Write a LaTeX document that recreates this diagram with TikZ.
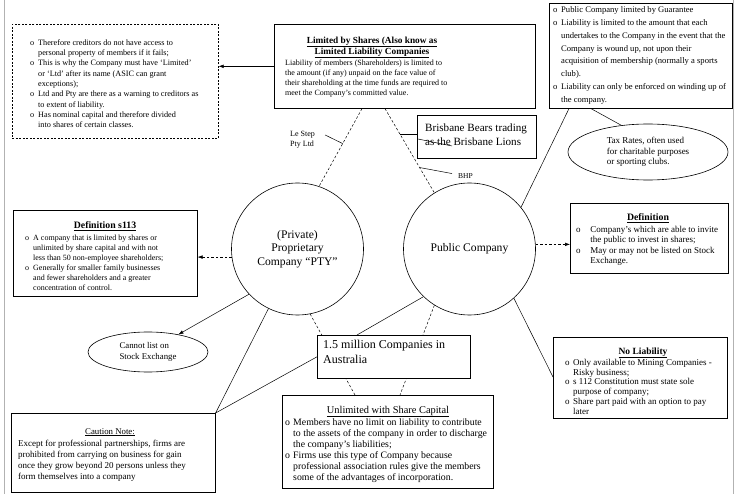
\documentclass[tikz,border=0pt]{standalone}
\usepackage{fontspec}
\setmainfont{Liberation Serif}
\usetikzlibrary{calc,arrows.meta,positioning,shapes.geometric,backgrounds}
\newcommand{\fs}[2]{\fontsize{#1}{#2}\selectfont}
\newcommand{\bul}[1][8pt]{\makebox[#1][l]{o}}
\newcommand{\hng}[1][8pt]{\makebox[#1]{}}
\tikzset{
  box/.style      = {draw=black, line width=0.6pt, fill=white, inner sep=0pt, anchor=north west},
  dbox/.style     = {box, dash pattern=on 2pt off 1.5pt},
  txt/.style      = {inner sep=0pt, align=left, anchor=north west},
  title/.style    = {inner sep=0pt, anchor=base},
  lbl/.style      = {inner sep=0pt, align=left, font=\fs{8}{9.5}},
  company/.style  = {draw=black, line width=0.6pt, fill=white, circle, minimum size=132pt,
                     inner sep=0pt, align=center, font=\fs{11.6}{13.5}},
  blob/.style     = {draw=black, line width=0.6pt, fill=white, ellipse, inner sep=0pt, align=left},
  link/.style     = {line width=0.5pt},
  dlink/.style    = {line width=0.5pt, dash pattern=on 2.5pt off 2pt},
  arr/.style      = {-{Latex[length=5pt,width=3.6pt]}},
  border/.style   = {draw=black!30, line width=1pt}
}

\begin{document}
\begin{tikzpicture}[x=1pt, y=-1pt]
  \useasboundingbox (0,0) rectangle (736,494);
  % page edges
  \draw[border] (4,0) -- (4,494);
  \draw[border] (733,0) -- (733,494);

  % the two kinds of company
  \node[company] (priv) at (297.5,249) {(Private)\\Proprietary\\Company “PTY”};
  \node[company] (pub) at (469.5,249) {Public Company};

  % Limited by shares (top)
  \node[box, minimum width=261pt, minimum height=84pt] (lim) at (274,24) {};
  \node[title, align=center, anchor=north, font=\fs{9.3}{11}\bfseries] (limtitle)
    at ($(lim.north west)+(98,12.5)$) {\underline{Limited by Shares (Also know as}\\\underline{Limited Liability Companies}};
  \node[txt, font=\fs{8}{10}] (limtxt) at ($(lim.north west)+(11,35.5)$)
    {Liability of members (Shareholders) is limited to\\the amount (if any) unpaid on the face value of\\their shareholding at the time funds are required to\\meet the Company’s committed value.};

  \node[dbox, minimum width=206pt, minimum height=114pt] (dash) at (12,24) {};
  \node[txt, font=\fs{8.2}{10.3}] (dashtxt) at ($(dash.north west)+(18,15.3)$)
    {\bul Therefore creditors do not have access to\\
     \hng personal property of members if it fails;\\
     \bul This is why the Company must have ‘Limited’\\
     \hng or ‘Ltd’ after its name (ASIC can grant\\
     \hng exceptions);\\
     \bul Ltd and Pty are there as a warning to creditors as\\
     \hng to extent of liability.\\
     \bul Has nominal capital and therefore divided\\
     \hng into shares of certain classes.};

  % Guarantee (top right)
  \node[box, minimum width=183pt, minimum height=105pt] (gua) at (549,3) {};
  \node[txt, font=\fs{8.6}{12.8}] (guatxt) at ($(gua.north west)+(4,3.5)$)
    {\bul Public Company limited by Guarantee\\
     \bul Liability is limited to the amount that each\\
     \hng undertakes to the Company in the event that the\\
     \hng Company is wound up, not upon their\\
     \hng acquisition of membership (normally a sports\\
     \hng club).\\
     \bul Liability can only be enforced on winding up of\\
     \hng the company.};
  \node[blob, minimum width=160pt, minimum height=56pt, font=\fs{9}{10.8}] (tax) at (648,152)
    {Tax Rates, often used\\for charitable purposes\\or sporting clubs.};

  % examples
  \node[box, minimum width=119pt, minimum height=43pt] (bris) at (417,115) {};
  \node[txt, font=\fs{11.1}{14.5}] (bristxt) at ($(bris.north west)+(8,8.3)$)
    {Brisbane Bears trading\\as the Brisbane Lions};
  \node[lbl, anchor=north west] (lestep) at (290,131.5) {Le Step\\Pty Ltd};
  \node[lbl, anchor=base west, font=\fs{7.5}{9}] (bhp) at (458,179) {BHP};

  % Definitions
  \node[box, minimum width=184pt, minimum height=86pt] (defpty) at (13,210) {};
  \node[title, font=\fs{9.8}{11}\bfseries] (defptytitle) at ($(defpty.north west)+(92,19)$)
    {\underline{Definition s113}};
  \node[txt, font=\fs{8}{10}] (defptytxt) at ($(defpty.north west)+(12,24.5)$)
    {\bul A company that is limited by shares or\\
     \hng unlimited by share capital and with not\\
     \hng less than 50 non-employee shareholders;\\
     \bul Generally for smaller family businesses\\
     \hng and fewer shareholders and a greater\\
     \hng concentration of control.};

  \node[box, minimum width=158pt, minimum height=70pt] (defpub) at (570,203) {};
  \node[title, font=\fs{9.8}{11}\bfseries] (defpubtitle) at ($(defpub.north west)+(78,18)$)
    {\underline{Definition}};
  \node[txt, font=\fs{9}{10.5}] (defpubtxt) at ($(defpub.north west)+(6,22.8)$)
    {\bul[12pt] Company’s which are able to invite\\
     \hng[12pt] the public to invest in shares;\\
     \bul[12pt] May or may not be listed on Stock\\
     \hng[12pt] Exchange.};

  \node[blob, minimum width=120pt, minimum height=40pt, font=\fs{8.8}{11}] (cannot) at (148,352)
    {Cannot list on\\Stock Exchange};

  % bottom row
  \node[box, minimum width=153pt, minimum height=43pt] (onefive) at (317,335) {};
  \node[txt, font=\fs{12}{15.5}] (onefivetxt) at ($(onefive.north west)+(6,4.8)$)
    {1.5 million Companies in\\Australia};

  \node[box, minimum width=204pt, minimum height=79pt] (caution) at (11,413) {};
  \node[title, font=\fs{8.8}{10}] (cautiontitle) at ($(caution.north west)+(99,21)$)
    {\underline{Caution Note:}};
  \node[txt, font=\fs{9}{11}] (cautiontxt) at ($(caution.north west)+(7,26.8)$)
    {Except for professional partnerships, firms are\\prohibited from carrying on business for gain\\once they grow beyond 20 persons unless they\\form themselves into a company};

  \node[box, minimum width=211pt, minimum height=93pt] (unlim) at (282,395) {};
  \node[title, font=\fs{10.4}{12}] (unlimtitle) at ($(unlim.north west)+(106,18)$)
    {\underline{Unlimited with Share Capital}};
  \node[txt, font=\fs{9.8}{11}] (unlimtxt) at ($(unlim.north west)+(3,23.2)$)
    {\bul Members have no limit on liability to contribute\\
     \hng to the assets of the company in order to discharge\\
     \hng the company’s liabilities;\\
     \bul Firms use this type of Company because\\
     \hng professional association rules give the members\\
     \hng some of the advantages of incorporation.};

  \node[box, minimum width=174pt, minimum height=81pt] (noliab) at (553,337) {};
  \node[title, font=\fs{9.5}{11}\bfseries] (noliabtitle) at ($(noliab.north west)+(90,17)$)
    {\underline{No Liability}};
  \node[txt, font=\fs{9}{9.8}] (noliabtxt) at ($(noliab.north west)+(12,21.8)$)
    {\bul Only available to Mining Companies -\\
     \hng Risky business;\\
     \bul s 112 Constitution must state sole\\
     \hng purpose of company;\\
     \bul Share part paid with an option to pay\\
     \hng later};

  % connectors (behind the boxes)
  \begin{scope}[on background layer]
    \coordinate (limL) at ($(lim.south west)+(88,0)$);
    \coordinate (limR) at ($(lim.south west)+(111,0)$);
    \draw[dlink] (limL) -- (priv.71);
    \draw[dlink] (limR) -- (pub.122);
    \draw[dlink] (priv.-79) -- ($(unlim.north west)+(73,0)$);
    \draw[dlink] (pub.-122) -- ($(unlim.north west)+(118,0)$);
    \draw[link,arr] (lim.west) -- (lim.west -| dash.east);
    \draw[dlink,arr] (priv.187) -- (priv.187 -| defpty.east);
    \draw[dlink,arr] (pub.4) -- (pub.4 -| defpub.west);
    \draw[link,arr] (priv.223) -- (cannot.30);
    \draw[link] (priv.-116) -- (caution.north east);
    \draw[link] (onefive.west) -- (caution.north east);
    \draw[link] (pub.-134) -- ($(onefive.north west)+(40,0)$);
    \draw[link] (pub.-48) -- ($(noliab.north west)+(0,40)$);
    \draw[link] (pub.39) -- ($(gua.south west)+(20,0)$);
    \draw[link] ($(gua.south west)+(42,0)$) -- (tax.135);
  \end{scope}

  % pointers to the examples
  \coordinate (lestip) at ($(limL)!0.45!(priv.71)$);
  \coordinate (bristip) at ($(limR)!0.3!(pub.122)$);
  \coordinate (bhptip) at ($(limR)!0.7!(pub.122)$);
  \draw[link] ($(lestep.east)+(10,-5)$) -- (lestip);
  \draw[link] (bristip) -- (bristip -| bris.west);
  \draw[link] ($(bris.north west)+(1,24)$) -- ++(34,7);
  \draw[link] ($(bhp.west)+(-6,-3)$) -- (bhptip);
\end{tikzpicture}
\end{document}
